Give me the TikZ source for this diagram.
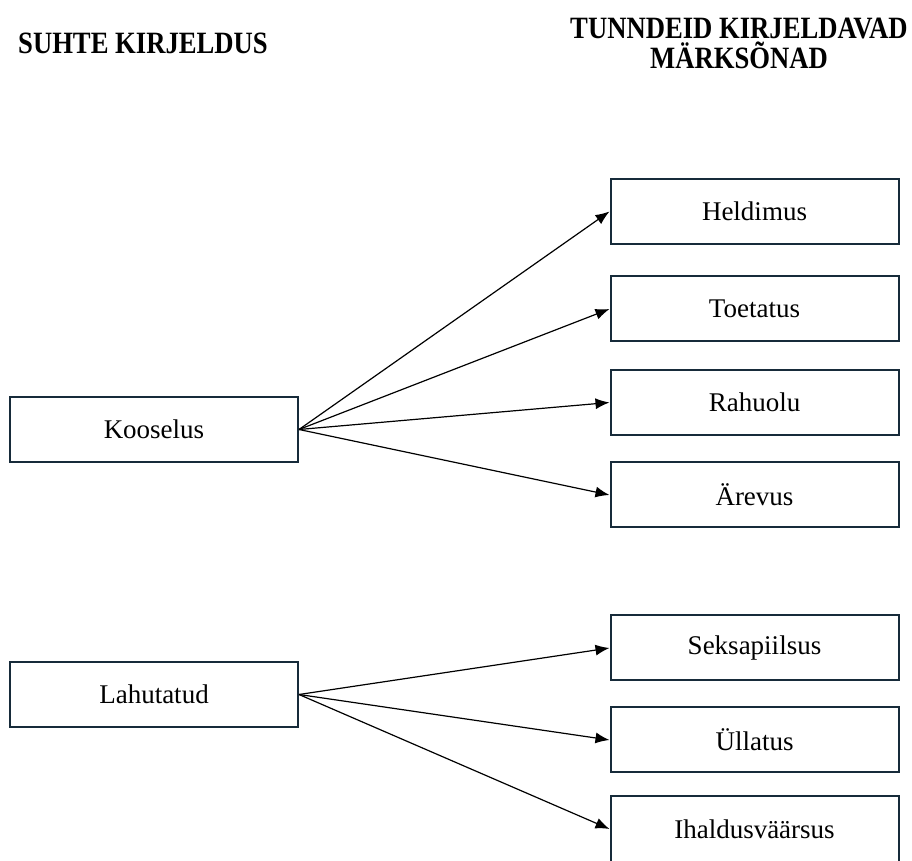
\documentclass[tikz,border=0pt]{standalone}
\usepackage{fontspec}
\setmainfont{Liberation Serif}
\newfontfamily\headfont[FakeStretch=0.86]{Liberation Serif}
\usepackage{tikz}
\usetikzlibrary{arrows.meta}
\definecolor{boxline}{HTML}{172B3A}

\begin{document}
\begin{tikzpicture}[x=0.5pt,y=-0.5pt,
  every node/.style={font=\fontsize{13.5}{15}\selectfont},
  box/.style={draw=boxline,line width=1pt,minimum width=144pt,minimum height=32.5pt,inner sep=0pt},
  head/.style={font=\headfont\fontsize{15.5}{15}\selectfont\bfseries,align=center}]
\useasboundingbox (0,0) rectangle (912,861);

  \node[head] (h1) at (143,43) {SUHTE KIRJELDUS};
  \node[head] (h2) at (739,43) {TUNNDEID KIRJELDAVAD\\MÄRKSÕNAD};

  \node[box] (n1) at (154,429.5) {Kooselus};
  \node[box] (n2) at (154,694.5) {Lahutatud};

  \node[box] (n3) at (754.5,211.5) {Heldimus};
  \node[box] (n4) at (754.5,309)  {Toetatus};
  \node[box] (n5) at (754.5,402.5)  {Rahuolu};
  \node[box] (n6) at (754.5,495)  {Ärevus};
\node[box] (n7) at (754.5,648)  {Seksapiilsus};
\node[box] (n8) at (754.5,740)  {Üllatus};
\node[box] (n9) at (754.5,829)  {Ihaldusväärsus};

  \foreach \from/\to in {n1/n3,n1/n4,n1/n5,n1/n6,n2/n7,n2/n8,n2/n9}
    \draw[line width=0.6pt,-{Latex[length=7pt,width=5.5pt]}] (\from.east) -- (\to.west);

\end{tikzpicture}
\end{document}
